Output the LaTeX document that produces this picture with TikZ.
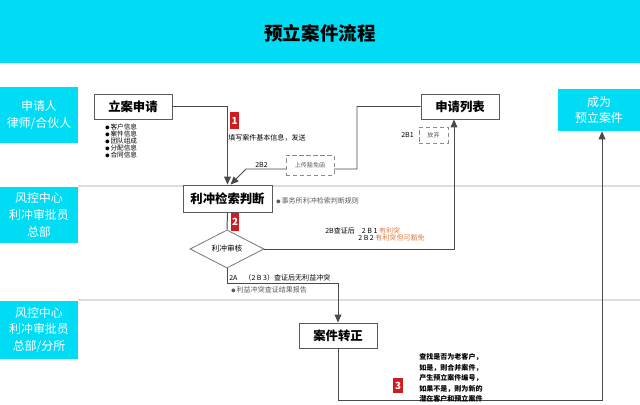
\documentclass[tikz,border=0pt]{standalone}
\usepackage{fontspec}
\setmainfont{Noto Sans CJK SC}
\usepackage{xcolor}
\definecolor{flowCyan}{HTML}{00DCF4}
\definecolor{flowRed}{HTML}{D01C1F}
\definecolor{flowOrange}{HTML}{E07A3C}
\definecolor{flowLine}{HTML}{4A4A4A}
\definecolor{flowRule}{HTML}{DEDEDE}
\definecolor{flowBorder}{HTML}{5A5A5A}
\usetikzlibrary{arrows.meta,positioning,shapes.geometric,calc}
\newcommand{\dotmark}{{\fontsize{3}{3}\selectfont ●}\,}
\tikzset{
  >={Triangle[length=2mm,width=1.7mm]},
  band/.style={rectangle,fill=flowCyan,inner sep=0pt},
  role/.style={rectangle,fill=flowCyan,text=white,inner sep=0pt,align=center,minimum width=1.95cm,font=\fontsize{8.5}{12}\selectfont},
  box/.style={rectangle,draw=flowBorder,line width=0.6pt,fill=white,inner sep=0pt,align=center,font=\bfseries\fontsize{8.8}{10}\selectfont},
  dashbox/.style={rectangle,draw=flowBorder!70,densely dashed,line width=0.4pt,fill=white,inner sep=0pt,font=\fontsize{4.3}{5}\selectfont,text=flowBorder},
  badge/.style={rectangle,fill=flowRed,text=white,inner sep=0pt,font=\bfseries\fontsize{7}{7}\selectfont},
  decision/.style={diamond,draw=flowBorder!80,line width=0.6pt,fill=white,inner sep=0pt,font=\fontsize{5.5}{6}\selectfont},
  flowarrow/.style={->,draw=flowLine,line width=0.7pt},
  flowline/.style={draw=flowLine,line width=0.7pt},
  rule/.style={draw=flowRule,line width=1.2pt},
  note/.style={anchor=west,inner sep=0pt,align=left,font=\fontsize{5}{7.5}\selectfont,text=black},
  graynote/.style={note,text=flowBorder},
}

\begin{document}
\begin{tikzpicture}[x=0.025cm,y=-0.025cm]
  \useasboundingbox (0,0) rectangle (640,405);
  \node[band, minimum width=16cm, minimum height=1.575cm, anchor=north west] (banner) at (0,0) {};
  \node[font=\bfseries\fontsize{13.2}{14}\selectfont] (title) at (320,33) {预立案件流程};
  % swimlanes
  \node[role, minimum height=1.4cm] (lane1) at (39,115) {申请人\\律师/合伙人};
  \node[role, minimum height=1.4cm] (lane2) at (39,215) {风控中心\\利冲审批员\\总部};
  \node[role, minimum height=1.45cm] (lane3) at (39,330) {风控中心\\利冲审批员\\总部/分所};
  \draw[rule] (78,186) -- (640,186);
  \draw[rule] (78,300) -- (640,300);
  \node[role, minimum width=2.05cm, minimum height=1.05cm] (goal) at (599,110) {成为\\预立案件};
  % steps
  \node[box, minimum width=1.95cm, minimum height=0.625cm] (apply) at (133,106.5) {立案申请};
  \node[box, minimum width=1.95cm, minimum height=0.625cm] (list) at (460,106.5) {申请列表};
  \node[box, minimum width=2.225cm, minimum height=0.675cm] (search) at (227.5,198.5) {利冲检索判断};
  \node[decision, minimum width=1.85cm, minimum height=0.8cm] (audit) at (227,249) {利冲审核};
  \node[box, minimum width=1.95cm, minimum height=0.625cm] (convert) at (338,335.5) {案件转正};
  \coordinate (bendA) at (357,169);
  \coordinate (bendB) at (246,169);
  \coordinate (bendC) at (338,283);
  \coordinate (bendD) at (602,400);
  \draw[flowarrow] (apply.east) -| (search.north);
  \draw[flowarrow] (list.west) -| (bendA) -- (bendB) -- ($(search.north)+(3,0)$);
  \draw[flowline] (search.south) -- (audit.north);
  \draw[flowarrow] (audit.east) -| ($(list.south)+(-6,0)$);
  \draw[flowarrow] (audit.south) |- (bendC) -- (convert.north);
  \draw[flowarrow] (convert.south) |- (bendD) -- (bendD |- goal.south);
  \node[dashbox, minimum width=1.2cm, minimum height=0.5cm] (waiver) at (310,165) {上传豁免函};
  \node[dashbox, minimum width=0.725cm, minimum height=0.4cm] (giveup) at (433.5,135) {放弃};
  % badges
  \node[badge, minimum width=0.225cm, minimum height=0.425cm] (step1) at (234.5,121) {1};
  \node[badge, minimum width=0.2cm, minimum height=0.45cm] (step2) at (235,222) {2};
  \node[badge, minimum width=0.25cm, minimum height=0.375cm] (step3) at (398,385.5) {3};
  % notes
  \node[note] (fillnote) at (228,138) {填写案件基本信息，发送};
  \node[note, font=\fontsize{4.7}{5}\selectfont] (fields) at (105,141) {\dotmark 客户信息\\\dotmark 案件信息\\\dotmark 团队组成\\\dotmark 分配信息\\\dotmark 合同信息};
  \node[note] (tag2b2) at (255,165) {2B2};
  \node[note] (tag2b1) at (401,135) {2B1};
  \node[graynote] (rulenote) at (276,201) {\dotmark 事务所利冲检索判断规则};
  \node[note] (res1) at (325,231) {2B查证后\quad 2 B 1 \textcolor{flowOrange}{有利突}};
  \node[note] (res2) at (358,238) {2 B 2 \textcolor{flowOrange}{有利突但可豁免}};
  \node[note] (pass) at (229,278) {2A\quad（2 B 3）查证后无利益冲突};
  \node[graynote] (report) at (231,290) {\dotmark 利益冲突查证结果报告};
  \node[note, font=\bfseries\fontsize{5}{7.5}\selectfont] (merge) at (419,378) {查找是否为老客户，\\如是，则合并案件，\\产生预立案件编号，\\如果不是，则为新的\\潜在客户和预立案件};
\end{tikzpicture}
\end{document}
